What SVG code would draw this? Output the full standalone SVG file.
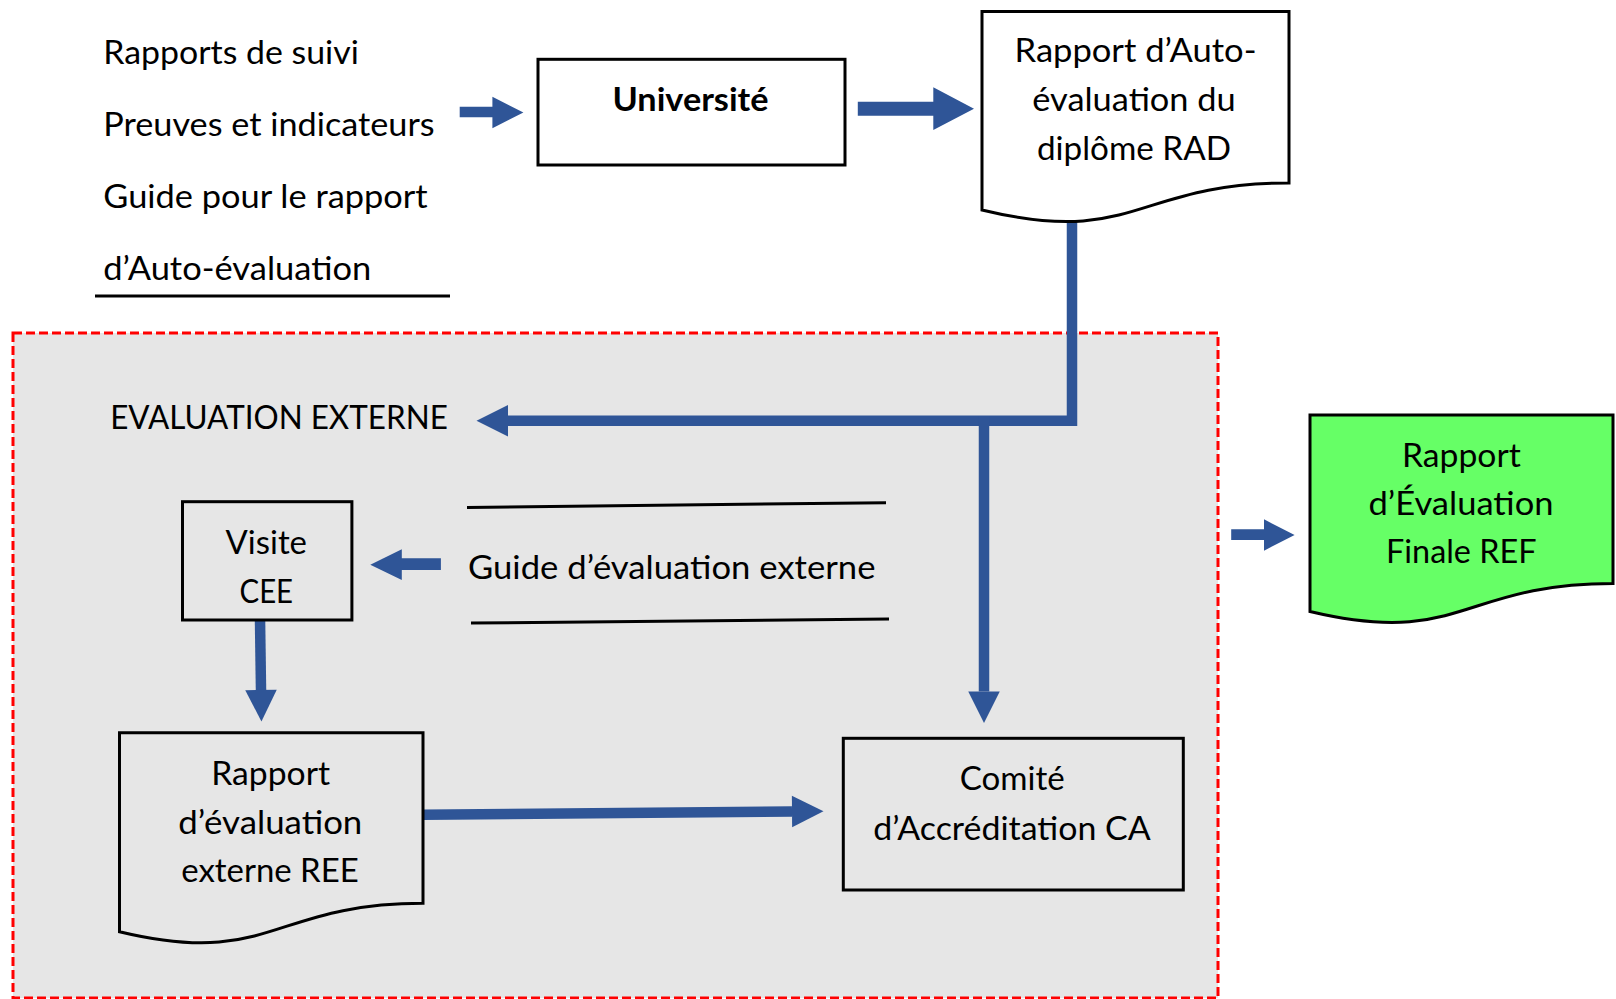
<svg xmlns="http://www.w3.org/2000/svg" width="1616" height="999" viewBox="0 0 1616 999">
<style>
.t{font-family:Lato,"Open Sans","Liberation Sans",sans-serif;font-size:33px;fill:#000}
.c{text-anchor:middle}
.b{font-weight:bold}
.box{fill:#fff;stroke:#000;stroke-width:3}
.gbox{fill:none;stroke:#000;stroke-width:3}
.ln{stroke:#000;stroke-width:3;fill:none}
.conn{fill:none;stroke:#2F5597;stroke-width:10.5;stroke-linejoin:miter}
.blk{fill:#2F5597}
</style>
<defs>
<marker id="ah" markerUnits="strokeWidth" markerWidth="3" markerHeight="3" refX="0" refY="1.5" orient="auto" overflow="visible">
<path d="M0,0 L3,1.5 L0,3 Z" fill="#2F5597"/>
</marker>
</defs>
<rect width="1616" height="999" fill="#fff"/>
<g id="external-zone">
<rect x="13" y="333" width="1205" height="665" fill="#E6E6E6" stroke="#FF0000" stroke-width="3" stroke-dasharray="9 4"/>
</g>
<g id="connectors">
<path class="conn" d="M1072,214 V420.8 H508" marker-end="url(#ah)"/>
<path class="conn" d="M984,416 V691.5" marker-end="url(#ah)"/>
<path class="conn" d="M260,619 L261,690" marker-end="url(#ah)"/>
<path class="conn" d="M423,814.7 L792,811.5" marker-end="url(#ah)"/>
<polygon class="blk" points="459.7,106.7 492.4,106.7 492.4,96.7 523.4,112.5 492.4,128.3 492.4,117.3 459.7,117.3"/>
<polygon class="blk" points="857.8,101.7 933.3,101.7 933.3,87.3 974,108.7 933.3,130 933.3,115.7 857.8,115.7"/>
<polygon class="blk" points="440.9,558.3 401.8,558.3 401.8,549.3 370.3,564.7 401.8,580 401.8,570 440.9,570"/>
<polygon class="blk" points="1231.2,529.3 1264,529.3 1264,519.3 1294.6,535 1264,550.7 1264,540 1231.2,540"/>
</g>
<g id="inputs">
<text class="t" x="103.3" y="64" textLength="255.5" lengthAdjust="spacingAndGlyphs">Rapports de suivi</text>
<text class="t" x="103.3" y="136" textLength="331.3" lengthAdjust="spacingAndGlyphs">Preuves et indicateurs</text>
<text class="t" x="103.3" y="208" textLength="324.4" lengthAdjust="spacingAndGlyphs">Guide pour le rapport</text>
<text class="t" x="103.3" y="280" textLength="268" lengthAdjust="spacingAndGlyphs">d’Auto-évaluation</text>
<line class="ln" x1="95" y1="296" x2="450" y2="296"/>
</g>
<g id="universite">
<rect class="box" x="538" y="59.3" width="307" height="105.7"/>
<text class="t c b" x="690.5" y="110.5" textLength="156" lengthAdjust="spacingAndGlyphs">Université</text>
</g>
<g id="rad">
<path class="box" d="M982,11.5 H1289 V183 C1135.5,183 1135.5,247.3 982,210 Z"/>
<text class="t c" x="1135.5" y="62" textLength="242" lengthAdjust="spacingAndGlyphs">Rapport d’Auto-</text>
<text class="t c" x="1134" y="111" textLength="203.5" lengthAdjust="spacingAndGlyphs">évaluation du</text>
<text class="t c" x="1134" y="159.5" textLength="194" lengthAdjust="spacingAndGlyphs">diplôme RAD</text>
</g>
<g id="evaluation-externe">
<text class="t" x="110.2" y="429" textLength="337.6" lengthAdjust="spacingAndGlyphs">EVALUATION EXTERNE</text>
</g>
<g id="visite">
<rect class="gbox" x="182.5" y="501.7" width="169.4" height="118.3"/>
<text class="t c" x="266.3" y="553.5" textLength="81.4" lengthAdjust="spacingAndGlyphs">Visite</text>
<text class="t c" x="266.3" y="602.5" textLength="53.6" lengthAdjust="spacingAndGlyphs">CEE</text>
</g>
<g id="guide-externe">
<line class="ln" x1="467" y1="507.5" x2="886" y2="502.7"/>
<text class="t" x="468" y="578.5" textLength="407.5" lengthAdjust="spacingAndGlyphs">Guide d’évaluation externe</text>
<line class="ln" x1="471" y1="623" x2="889" y2="619"/>
</g>
<g id="ree">
<path class="gbox" d="M119.5,732.7 H423 V903.3 C271.2,903.3 271.2,968.2 119.5,931.7 Z"/>
<text class="t c" x="270.6" y="785" textLength="118.8" lengthAdjust="spacingAndGlyphs">Rapport</text>
<text class="t c" x="270.3" y="833.5" textLength="184" lengthAdjust="spacingAndGlyphs">d’évaluation</text>
<text class="t c" x="270" y="882" textLength="177.5" lengthAdjust="spacingAndGlyphs">externe REE</text>
</g>
<g id="comite">
<rect class="gbox" x="843.3" y="738.3" width="340" height="151.7"/>
<text class="t c" x="1012.3" y="790" textLength="105" lengthAdjust="spacingAndGlyphs">Comité</text>
<text class="t c" x="1012" y="839.5" textLength="277.4" lengthAdjust="spacingAndGlyphs">d’Accréditation CA</text>
</g>
<g id="ref">
<path d="M1310,415 H1613 V583.5 C1461.5,583.5 1461.5,647.5 1310,611.5 Z" fill="#66FF66" stroke="#000" stroke-width="3"/>
<text class="t c" x="1461.4" y="467" textLength="118.8" lengthAdjust="spacingAndGlyphs">Rapport</text>
<text class="t c" x="1461" y="515" textLength="185" lengthAdjust="spacingAndGlyphs">d’Évaluation</text>
<text class="t c" x="1461.3" y="563" textLength="150.5" lengthAdjust="spacingAndGlyphs">Finale REF</text>
</g>
</svg>
